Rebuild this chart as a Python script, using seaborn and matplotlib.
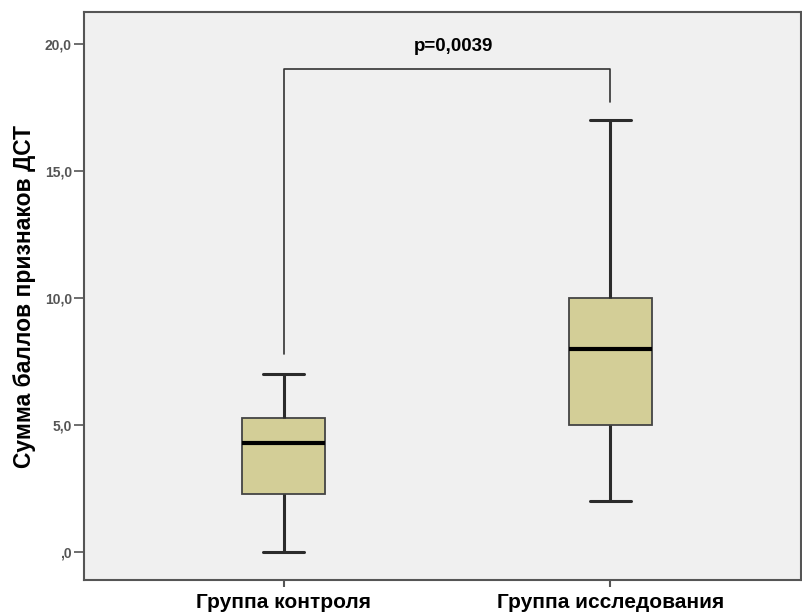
import matplotlib
matplotlib.use("Agg")
import matplotlib.pyplot as plt
from matplotlib.ticker import FuncFormatter
import seaborn as sns
import pandas as pd

# ===================== DATOS =====================
grupos = ["Группа контроля", "Группа исследования"]
# пять чисел: мин, Q1, медиана, Q3, макс
control = [0.0, 2.3, 4.3, 5.27, 7.0]
issled = [2.0, 5.0, 8.0, 10.0, 17.0]

p_text = "p=0,0039"
bracket_top = 19.0
bracket_left_end = 7.8
bracket_right_end = 17.7

df = pd.DataFrame({
    "grupo": [grupos[0]] * len(control) + [grupos[1]] * len(issled),
    "valor": control + issled,
})

# ===================== GRÁFICO =====================
sns.set_style("white")
plt.rcParams["font.family"] = ["Liberation Sans", "DejaVu Sans"]

fig = plt.figure(figsize=(8.03, 6.14), dpi=100)
ax = fig.add_axes([0.105, 0.055, 0.893, 0.925])
ax.set_facecolor("#f0f0f0")

linea = "#2b2b2b"
sns.boxplot(
    data=df, x="grupo", y="valor", order=grupos, ax=ax,
    width=0.254, whis=(0, 100), color="#d3ce97", saturation=1,
    linecolor=linea, linewidth=2.2,
    boxprops=dict(edgecolor="#444444", linewidth=1.3),
    medianprops=dict(color="black", linewidth=3),
)

# corchete de significación
ax.plot([0, 0, 1, 1], [bracket_left_end, bracket_top, bracket_top, bracket_right_end],
        color="#333333", linewidth=1.2)
ax.text(0.52, 19.9, p_text, ha="center", va="center", fontsize=13.5,
        fontweight="bold", color="black")

ax.set_xlim(-0.61, 1.585)
ax.set_ylim(-1.1, 21.25)
ax.set_yticks([0, 5, 10, 15, 20])
ax.yaxis.set_major_formatter(FuncFormatter(
    lambda v, pos: ("%.1f" % v).replace(".", ",").lstrip("0") if v < 1 else ("%.1f" % v).replace(".", ",")))

ax.set_xlabel("")
ax.set_ylabel("Сумма баллов признаков ДСТ", fontsize=16.5, fontweight="bold",
              labelpad=6, color="black")
ax.tick_params(axis="y", direction="out", length=7, width=1.2, color="#555555",
               labelsize=10, labelcolor="#555555", left=True, pad=2)
ax.tick_params(axis="x", direction="out", length=5, width=1.5, color="#555555",
               labelsize=15, labelcolor="black", bottom=True, pad=4)
for lab in ax.get_xticklabels():
    lab.set_fontweight("bold")
for lab in ax.get_yticklabels():
    lab.set_fontweight("bold")

for s in ax.spines.values():
    s.set_color("#555555")
    s.set_linewidth(1.5)

fig.savefig("out.png", dpi=100)
